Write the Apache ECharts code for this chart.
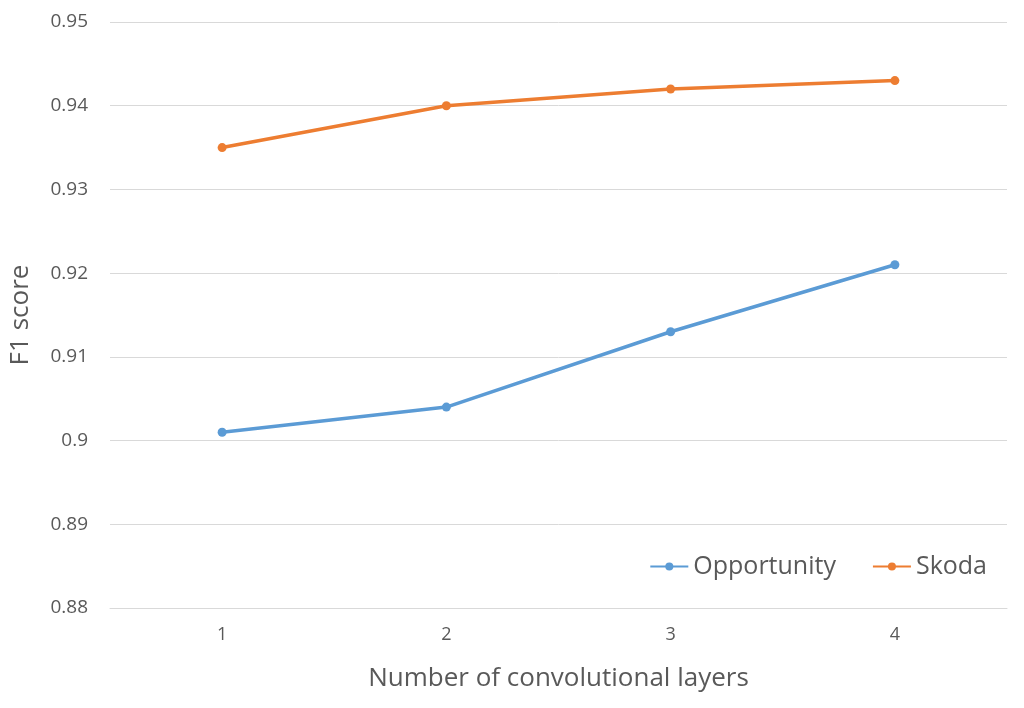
<!DOCTYPE html>
<html><head><meta charset="utf-8">
<script src="https://cdn.jsdelivr.net/npm/echarts@6/dist/echarts.min.js"></script>
<style>html,body{margin:0;padding:0;background:#fff}#c{width:1024px;height:708px}</style>
</head><body><div id="c"></div>
<script>
const categories = ['1','2','3','4'];
const opportunity = [0.901, 0.904, 0.913, 0.921];
const skoda = [0.935, 0.940, 0.942, 0.943];
const font = "'Open Sans', 'Noto Sans', sans-serif";
const chart = echarts.init(document.getElementById('c'));
chart.setOption({
  animation: false,
  textStyle: {fontFamily: font},
  grid: {left: 108, right: 17, top: 22, bottom: 100},
  legend: {
    right: 32, top: 549, itemWidth: 38, itemHeight: 10, itemGap: 36,
    textStyle: {fontSize: 25, color: '#595959', fontFamily: font},
    data: ['Opportunity', 'Skoda']
  },
  xAxis: {
    type: 'category', data: categories, boundaryGap: true,
    name: 'Number of convolutional layers', nameLocation: 'middle', nameGap: 58,
    nameTextStyle: {fontSize: 26, color: '#595959'},
    axisLine: {lineStyle: {color: '#d9d9d9'}},
    axisTick: {show: false},
    axisLabel: {fontSize: 18, color: '#595959', margin: 18}
  },
  yAxis: {
    type: 'value', min: 0.88, max: 0.95, interval: 0.01,
    name: 'F1 score', nameLocation: 'middle', nameGap: 76,
    nameTextStyle: {fontSize: 26, color: '#595959'},
    axisLine: {show: false}, axisTick: {show: false},
    axisLabel: {fontSize: 19, color: '#595959', margin: 22,
      formatter: v => String(parseFloat(v.toFixed(3)))},
    splitLine: {lineStyle: {color: '#d9d9d9', width: 1}}
  },
  series: [
    {name: 'Opportunity', type: 'line', data: opportunity, symbol: 'circle', symbolSize: 9,
     itemStyle: {color: '#5B9BD5'}, lineStyle: {width: 3.5, color: '#5B9BD5'}},
    {name: 'Skoda', type: 'line', data: skoda, symbol: 'circle', symbolSize: 9,
     itemStyle: {color: '#ED7D31'}, lineStyle: {width: 3.5, color: '#ED7D31'}}
  ]
});
</script></body></html>
